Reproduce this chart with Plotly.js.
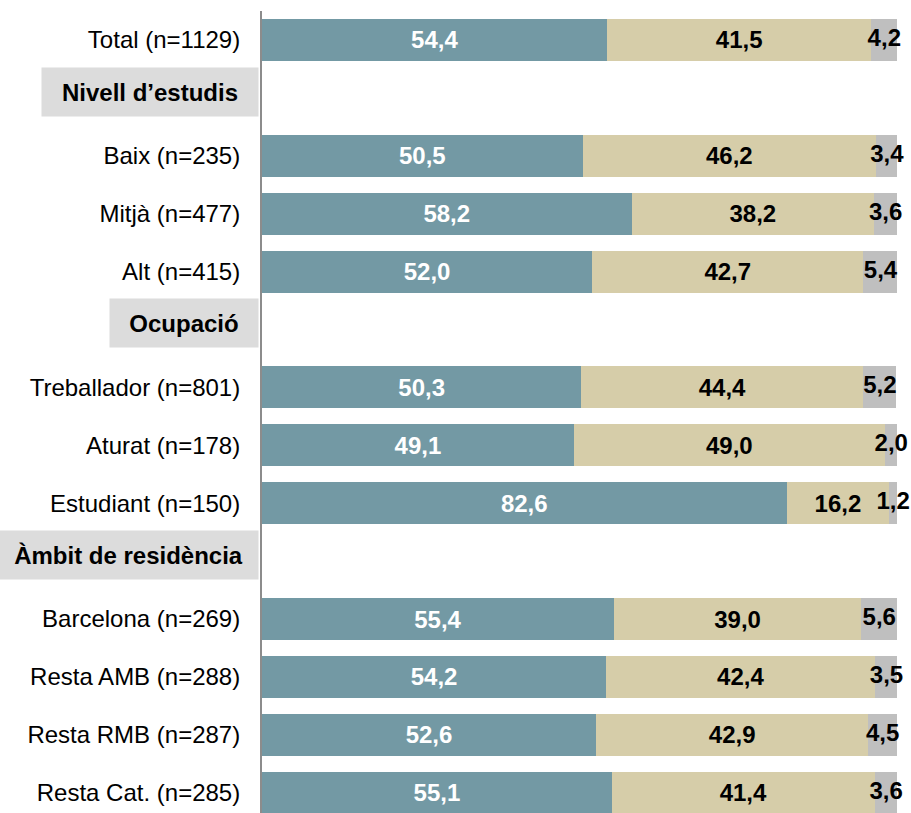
<!DOCTYPE html>
<html>
<head>
<meta charset="utf-8">
<script src="https://cdn.plot.ly/plotly-3.0.1.min.js"></script>
<style>html,body{margin:0;padding:0;background:#fff;}#chart{width:911px;height:813px;}</style>
</head>
<body>
<div id="chart"></div>
<script>
// Row categories (top to bottom); header rows carry no values
const categories = [
  "Total (n=1129)",
  "Nivell d’estudis",
  "Baix (n=235)",
  "Mitjà (n=477)",
  "Alt (n=415)",
  "Ocupació",
  "Treballador (n=801)",
  "Aturat (n=178)",
  "Estudiant (n=150)",
  "Àmbit de residència",
  "Barcelona (n=269)",
  "Resta AMB (n=288)",
  "Resta RMB (n=287)",
  "Resta Cat. (n=285)"
];
const headers = ["Nivell d’estudis", "Ocupació", "Àmbit de residència"];
const series1 = [54.4, null, 50.5, 58.2, 52.0, null, 50.3, 49.1, 82.6, null, 55.4, 54.2, 52.6, 55.1];
const series2 = [41.5, null, 46.2, 38.2, 42.7, null, 44.4, 49.0, 16.2, null, 39.0, 42.4, 42.9, 41.4];
const series3 = [4.2, null, 3.4, 3.6, 5.4, null, 5.2, 2.0, 1.2, null, 5.6, 3.5, 4.5, 3.6];

const FONT = "Liberation Sans, Arial, sans-serif";
const FS = 24;

function barTrace(vals, color, textColor, withText) {
  const t = {
    type: "bar", orientation: "h",
    y: categories, x: vals,
    marker: {color: color, line: {width: 0}},
    cliponaxis: false,
    hoverinfo: "skip",
    showlegend: false
  };
  if (withText) {
    Object.assign(t, {
      texttemplate: "%{x:.1f}",
      textposition: "inside",
      insidetextanchor: "middle",
      textangle: 0,
      constraintext: "none",
      textfont: {family: FONT, size: FS, color: textColor, weight: "bold"}
    });
  } else {
    t.textposition = "none";
  }
  return t;
}

// labels of the small third segment, centred on the segment (may overflow it)
const mid3 = series3.map((v, i) => v == null ? null : series1[i] + series2[i] + v / 2);
const txt3 = series3.map(v => v == null ? "" : v.toFixed(1).replace(".", ","));

const data = [
  barTrace(series1, "#7399a4", "#ffffff", true),
  barTrace(series2, "#d6cda9", "#000000", true),
  barTrace(series3, "#bfbfbf", "#000000", false),
  {
    type: "scatter", mode: "text",
    y: categories, x: mid3, text: txt3,
    textposition: "middle center",
    cliponaxis: false,
    textfont: {family: FONT, size: FS, color: "#000000", weight: "bold"},
    hoverinfo: "skip", showlegend: false
  }
];

const headerWidths = {"Nivell d’estudis": 216, "Ocupació": 148, "Àmbit de residència": 259};
const annotations = headers.map(h => ({
  xref: "paper", yref: "y", x: 0, y: h,
  xanchor: "right", yanchor: "middle",
  xshift: -3, yshift: 6,
  text: "<b>" + h + "</b>",
  showarrow: false,
  width: headerWidths[h], height: 48,
  align: "center", valign: "middle",
  bgcolor: "#dcdcdc", borderpad: 0,
  font: {family: FONT, size: FS, color: "#000000"}
}));

const tickRows = categories.filter(c => headers.indexOf(c) < 0);

const layout = {
  width: 911, height: 813,
  margin: {l: 262, r: 14, t: 11, b: 0, pad: 0},
  paper_bgcolor: "#ffffff", plot_bgcolor: "#ffffff",
  barmode: "stack", bargap: 0.275,
  separators: ", ",
  font: {family: FONT, size: FS, color: "#000000"},
  xaxis: {range: [0, 100], visible: false, showgrid: false, zeroline: false, fixedrange: true},
  yaxis: {
    type: "category", categoryorder: "array", categoryarray: categories,
    range: [13.35, -0.5],
    tickvals: tickRows, ticktext: tickRows,
    ticks: "", ticklabelstandoff: 15,
    showline: true, linecolor: "#8c8c8c", linewidth: 2,
    showgrid: false, zeroline: false,
    tickfont: {family: FONT, size: FS, color: "#000000"}
  },
  annotations: annotations
};

Plotly.newPlot("chart", data, layout, {displayModeBar: false, staticPlot: true});
</script>
</body>
</html>
